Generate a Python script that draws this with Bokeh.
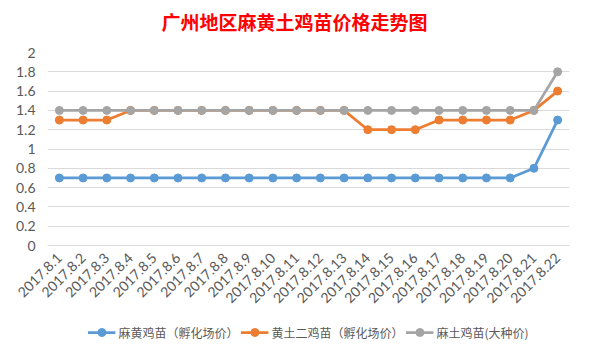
from bokeh.plotting import figure
from bokeh.layouts import column
from bokeh.models import FixedTicker, Legend, LegendItem, Range1d, Div
from bokeh.embed import file_html
from bokeh.resources import INLINE
import math

title_text = "广州地区麻黄土鸡苗价格走势图"
dates = ["2017.8.%d" % d for d in range(1, 23)]
names = ["麻黄鸡苗（孵化场价）", "黄土二鸡苗（孵化场价）", "麻土鸡苗(大种价)"]
mahuang = [0.7] * 20 + [0.8, 1.3]
huangtu = [1.3, 1.3, 1.3, 1.4, 1.4, 1.4, 1.4, 1.4, 1.4, 1.4, 1.4, 1.4, 1.4,
           1.2, 1.2, 1.2, 1.3, 1.3, 1.3, 1.3, 1.4, 1.6]
matu = [1.4] * 21 + [1.8]
yticks = [0, 0.2, 0.4, 0.6, 0.8, 1, 1.2, 1.4, 1.6, 1.8, 2]
ylabels = ["0", "0.2", "0.4", "0.6", "0.8", "1", "1.2", "1.4", "1.6", "1.8", "2"]
colors = ["#5B9BD5", "#ED7D31", "#A5A5A5"]
series = [mahuang, huangtu, matu]

title = Div(text='<div style="width:589px;text-align:center;padding-top:10px;'
                 'line-height:24px;font-family:\'Noto Sans CJK SC\';font-size:19px;'
                 'font-weight:bold;color:#FF0000;">' + title_text + '</div>',
            width=589, height=40, margin=0)

p = figure(width=589, height=270, x_range=dates, y_range=Range1d(0, 2),
           output_backend="svg", toolbar_location=None,
           min_border_left=47, min_border_right=20, min_border_top=12, min_border_bottom=64)
p.background_fill_color = "white"
p.border_fill_color = "white"
p.outline_line_color = None

p.yaxis.ticker = FixedTicker(ticks=yticks)
p.yaxis.major_label_overrides = {t: l for t, l in zip(yticks, ylabels)}
p.yaxis.axis_line_color = None
p.yaxis.major_tick_line_color = None
p.yaxis.minor_tick_line_color = None
p.yaxis.major_label_text_font = "Lato"
p.yaxis.major_label_text_font_size = "14px"
p.yaxis.major_label_text_color = "#595959"
p.yaxis.major_label_standoff = 6

p.xaxis.axis_line_color = "#D9D9D9"
p.xaxis.major_tick_line_color = None
p.xaxis.major_label_orientation = math.pi / 4
p.xaxis.major_label_text_font = "Lato"
p.xaxis.major_label_text_font_size = "14px"
p.xaxis.major_label_text_color = "#595959"
p.xaxis.major_label_standoff = 4

p.xgrid.grid_line_color = None
p.ygrid.grid_line_color = "#D9D9D9"

for vals, c in zip(series, colors):
    p.line(dates, vals, line_color=c, line_width=2.75)
    p.scatter(dates, vals, size=8, fill_color=c, line_color=c)

# legend strip below the chart (series drawn out of view, only the legend shows)
q = figure(width=589, height=44, x_range=dates, y_range=Range1d(10, 11),
           output_backend="svg", toolbar_location=None,
           x_axis_location=None, y_axis_location=None,
           min_border_left=0, min_border_right=0, min_border_top=0, min_border_bottom=0)
q.outline_line_color = None
q.grid.grid_line_color = None
q.background_fill_color = "white"
q.border_fill_color = "white"

items = []
for vals, name, c in zip(series, names, colors):
    l = q.line(dates, vals, line_color=c, line_width=2.75)
    s = q.scatter(dates, vals, size=8, fill_color=c, line_color=c)
    items.append(LegendItem(label=name, renderers=[l, s]))

legend = Legend(items=items, orientation="horizontal", location="center",
                label_text_font="Noto Sans CJK SC", label_text_font_size="12px",
                label_text_color="#595959", border_line_color=None,
                background_fill_alpha=0, glyph_width=28, spacing=2,
                label_standoff=3, padding=0, margin=0)
q.add_layout(legend, "center")

layout = column(title, p, q, spacing=0)
open("out.html", "w").write(file_html(layout, INLINE))
